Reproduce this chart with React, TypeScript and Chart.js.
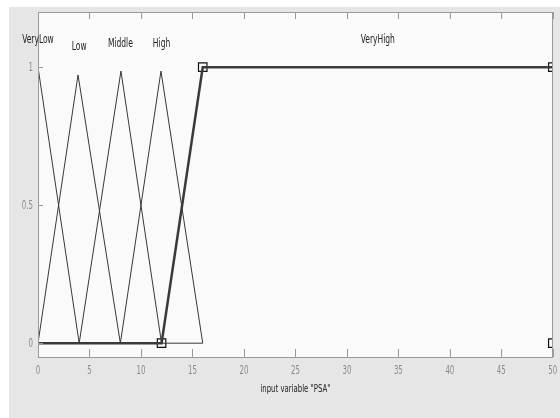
import React, { useEffect, useRef } from "react";
import { Chart, registerables } from "chart.js";

Chart.register(...registerables);

// Membership functions of input variable "PSA" (range 0..50)
const mfNames = ["VeryLow", "Low", "Middle", "High", "VeryHigh"];
const veryLowX = [0, 4];
const veryLowY = [1, 0];
const lowX = [0, 3.889, 8];
const lowY = [0, 0.972, 0];
const middleX = [4, 8.056, 12, 16];
const middleY = [0, 0.986, 0, 0];
const highX = [8, 11.944, 16];
const highY = [0, 0.986, 0];
const veryHighX = [0, 12, 16, 50];
const veryHighY = [0, 0, 1, 1];
// selected MF parameters (trapmf [12 16 50 50])
const paramX = [12, 16, 50, 50];
const paramY = [0, 1, 1, 0];
// label anchors
const labelX = [0, 4, 8, 12, 33];
const labelY = [1.1, 1.072, 1.086, 1.086, 1.1];
const xTicks = [0, 5, 10, 15, 20, 25, 30, 35, 40, 45, 50];
const xTickLabels = ["0", "5", "10", "15", "20", "25", "30", "35", "40", "45", "50"];
const yTicks = [0, 0.5, 1];
const yTickLabels = ["0", "0.5", "1"];
const xTitle = 'input variable "PSA"';

const FONT = '"DejaVu Sans Condensed", "Liberation Sans Narrow", "DejaVu Sans", sans-serif';

const pts = (xs: number[], ys: number[]) => xs.map((x, i) => ({ x, y: ys[i] }));

function squishText(ctx: CanvasRenderingContext2D, t: string, x: number, y: number, sx: number) {
  ctx.save();
  ctx.translate(x, y);
  ctx.scale(sx, 1);
  ctx.fillText(t, 0, 0);
  ctx.restore();
}

export default function App() {
  const ref = useRef<HTMLCanvasElement | null>(null);

  useEffect(() => {
    if (!ref.current) return;

    const bgPlugin = {
      id: "bg",
      beforeDraw(chart: any) {
        const { ctx, chartArea: a } = chart;
        ctx.save();
        ctx.fillStyle = "#ffffff";
        ctx.fillRect(0, 0, chart.width, chart.height);
        ctx.fillStyle = "#e6e6e6";
        ctx.fillRect(9, 7, chart.width - 9, chart.height - 7);
        ctx.fillStyle = "#fafafa";
        ctx.fillRect(a.left, a.top, a.right - a.left, a.bottom - a.top);
        ctx.restore();
      },
      afterDraw(chart: any) {
        const { ctx, chartArea: a } = chart;
        const xs = chart.scales.x;
        const ys = chart.scales.y;
        ctx.save();
        ctx.strokeStyle = "#9a9a9a";
        ctx.lineWidth = 1;
        ctx.strokeRect(Math.round(a.left) + 0.5, Math.round(a.top) + 0.5, Math.round(a.right - a.left) - 1, Math.round(a.bottom - a.top));
        ctx.beginPath();
        xTicks.forEach((v) => {
          const px = Math.round(xs.getPixelForValue(v)) + 0.5;
          ctx.moveTo(px, a.bottom);
          ctx.lineTo(px, a.bottom - 8);
          ctx.moveTo(px, a.top);
          ctx.lineTo(px, a.top + 7);
        });
        yTicks.forEach((v) => {
          const py = Math.round(ys.getPixelForValue(v)) + 0.5;
          ctx.moveTo(a.left, py);
          ctx.lineTo(a.left + 5, py);
        });
        ctx.stroke();

        // tick labels
        ctx.fillStyle = "#8a8a8a";
        ctx.font = `13px ${FONT}`;
        ctx.textBaseline = "middle";
        ctx.textAlign = "center";
        xTicks.forEach((v, i) => {
          squishText(ctx, xTickLabels[i], xs.getPixelForValue(v), a.bottom + 14, 0.6);
        });
        ctx.textAlign = "right";
        yTicks.forEach((v, i) => {
          squishText(ctx, yTickLabels[i], a.left - 5, ys.getPixelForValue(v), 0.6);
        });

        // axis title
        ctx.fillStyle = "#222222";
        ctx.font = `11px ${FONT}`;
        ctx.textAlign = "center";
        squishText(ctx, xTitle, (a.left + a.right) / 2, 389, 0.7);

        // MF names
        ctx.font = `12px ${FONT}`;
        mfNames.forEach((n, i) => {
          squishText(ctx, n, xs.getPixelForValue(labelX[i]), ys.getPixelForValue(labelY[i]), 0.7);
        });
        ctx.restore();
      },
    };

    const thin = { borderColor: "#383838", borderWidth: 1, pointRadius: 0, fill: false, tension: 0 };

    const chart = new Chart(ref.current, {
      type: "scatter",
      data: {
        datasets: [
          { label: "VeryLow", data: pts(veryLowX, veryLowY), showLine: true, ...thin },
          { label: "Low", data: pts(lowX, lowY), showLine: true, ...thin },
          { label: "Middle", data: pts(middleX, middleY), showLine: true, ...thin },
          { label: "High", data: pts(highX, highY), showLine: true, ...thin },
          {
            label: "VeryHigh",
            data: pts(veryHighX, veryHighY),
            showLine: true,
            borderColor: "#3a3a3a",
            borderWidth: 2.5,
            pointRadius: 0,
            fill: false,
          },
          {
            label: "params",
            data: pts(paramX, paramY),
            showLine: false,
            pointStyle: "rect",
            pointRadius: 6,
            pointBorderWidth: 1.2,
            pointBorderColor: "#111111",
            pointBackgroundColor: "rgba(0,0,0,0)",
            clip: 0,
          } as any,
        ],
      },
      options: {
        animation: false,
        responsive: false,
        events: [],
        layout: { padding: { left: 0, right: 2, top: 12, bottom: 0 } },
        plugins: { legend: { display: false }, tooltip: { enabled: false } },
        scales: {
          x: {
            type: "linear",
            min: 0,
            max: 50,
            afterBuildTicks: (s: any) => {
              s.ticks = xTicks.map((v) => ({ value: v }));
            },
            afterFit: (s: any) => {
              s.height = 61;
              s.paddingLeft = 0;
              s.paddingRight = 0;
            },
            grid: { display: false, drawTicks: false },
            border: { display: false },
            ticks: { display: false },
          },
          y: {
            type: "linear",
            min: -0.05,
            max: 1.2,
            afterBuildTicks: (s: any) => {
              s.ticks = yTicks.map((v) => ({ value: v }));
            },
            afterFit: (s: any) => {
              s.width = 38;
              s.paddingTop = 0;
              s.paddingBottom = 0;
            },
            grid: { display: false, drawTicks: false },
            border: { display: false },
            ticks: { display: false },
          },
        },
      },
      plugins: [bgPlugin],
    });

    return () => chart.destroy();
  }, []);

  return (
    <div style={{ position: "fixed", left: 0, top: 0, width: 560, height: 418 }}>
      <canvas ref={ref} width={560} height={418} style={{ display: "block" }} />
    </div>
  );
}
